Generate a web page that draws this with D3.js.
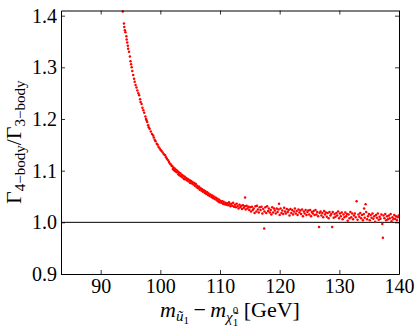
<!DOCTYPE html>
<html>
<head>
<meta charset="utf-8">
<script src="https://cdn.jsdelivr.net/npm/d3@7"></script>
<style>
  html, body { margin: 0; padding: 0; background: #fff; }
  svg { display: block; }
  text { font-family: "Liberation Serif", "DejaVu Serif", serif; fill: #000; }
</style>
</head>
<body>
<script>
// ---- data ----
const massDiff = [
  93.7, 93.9, 93.95, 94.05, 94.15, 94.3, 94.35, 94.45, 94.55, 94.6,
  94.75, 94.9, 95.0, 95.1, 95.2, 95.3, 95.45, 95.6, 95.7, 95.85,
  96.0, 96.15, 96.3, 96.45, 96.6, 96.7, 96.85, 97.0, 97.15,
  97.3, 97.5, 97.6, 97.7, 97.8, 97.95, 98.05, 98.2, 98.4, 98.6,
  98.8, 98.9, 99.05, 99.2, 99.4, 99.55, 99.7, 99.9, 100.05, 100.2,
  100.4, 100.6, 100.8, 100.95, 101.1, 101.3, 101.45, 101.6, 101.75, 101.9,
  102.0, 102.1, 102.2, 102.3, 102.4, 102.5, 102.6, 102.75, 102.85, 103.0,
  103.1, 103.2, 103.35, 103.45, 103.6, 103.7, 103.85, 103.95, 104.1, 104.2,
  104.35, 104.5, 104.6, 104.75, 104.9, 105.0, 105.15, 105.3, 105.4, 105.55,
  105.7, 105.8, 105.95, 106.1, 106.2, 106.35, 106.5, 106.6, 106.75, 106.9,
  107.0, 107.15, 107.3, 107.45, 107.55, 107.7, 107.85, 108.0, 108.1, 108.25,
  108.4, 108.55, 108.7, 108.8, 108.95, 109.1, 109.25, 109.4, 109.5, 109.65,
  109.8, 109.9, 110.05, 110.2, 110.35, 110.5, 110.6, 110.75, 110.9, 111.05,
  111.2, 111.35, 111.5, 111.6, 111.75, 111.9, 112.05, 112.2, 112.35, 112.5,
  112.65, 112.8, 112.95, 113.1, 113.25, 113.4, 113.55, 113.7, 113.85, 114.0,
  114.15, 114.2, 114.3, 114.45, 114.6, 114.75, 114.9,
  115.05, 115.2, 115.35, 115.5, 115.65, 115.8, 115.95, 116.1, 116.2, 116.35,
  116.5, 116.65, 116.8, 116.95, 117.1, 117.25, 117.4, 117.45, 117.6, 117.75,
  117.9, 118.05, 118.2, 118.35, 118.5, 118.6, 118.75, 118.9, 119.05, 119.2,
  119.35, 119.5, 119.65, 119.8, 119.9, 120.0, 120.15, 120.3, 120.45, 120.6,
  120.75, 120.9, 121.05, 121.2, 121.35, 121.5, 121.65, 121.8, 121.95, 122.1,
  122.25, 122.4, 122.55, 122.7, 122.85, 123.0, 123.15, 123.3, 123.45, 123.6,
  123.75, 123.9, 124.05, 124.2, 124.35, 124.5, 124.65, 124.8, 124.95, 125.1,
  125.25, 125.4, 125.55, 125.7, 125.85, 126.0, 126.15, 126.3, 126.45, 126.6,
  126.7, 126.85, 127.0, 127.15, 127.3, 127.45, 127.6, 127.75, 127.9, 128.05,
  128.2, 128.35, 128.5, 128.65, 128.8, 128.9, 129.05, 129.2, 129.35, 129.5,
  129.65, 129.8, 129.95, 130.1, 130.25, 130.4, 130.55, 130.7, 130.85, 131.0,
  131.15, 131.3, 131.4, 131.55, 131.7, 131.85, 132.0, 132.15, 132.3, 132.45,
  132.6, 132.75, 132.9, 133.05, 133.2, 133.35, 133.5, 133.65, 133.8, 133.95,
  134.1, 134.15, 134.25, 134.4, 134.5, 134.65, 134.8, 134.95, 135.1, 135.25,
  135.4, 135.55, 135.7, 135.85, 136.0, 136.15, 136.3, 136.45, 136.6, 136.75,
  136.9, 137.05, 137.2, 137.3, 137.4, 137.55, 137.7, 137.85, 138.0, 138.15,
  138.3, 138.45, 138.6, 138.75, 138.9, 139.05, 139.2, 139.35, 139.5, 139.65,
  139.8, 139.95
];
const widthRatio = [
  1.408, 1.385, 1.378, 1.372, 1.368, 1.360, 1.354, 1.348, 1.342, 1.336,
  1.330, 1.321, 1.312, 1.306, 1.300, 1.293, 1.285, 1.278, 1.272, 1.266,
  1.261, 1.255, 1.250, 1.246, 1.238, 1.233, 1.229, 1.222, 1.217,
  1.212, 1.205, 1.200, 1.197, 1.194, 1.188, 1.184, 1.181, 1.176, 1.171,
  1.168, 1.164, 1.160, 1.157, 1.152, 1.150, 1.146, 1.143, 1.140, 1.138,
  1.135, 1.132, 1.130, 1.126, 1.123, 1.120, 1.117, 1.114, 1.112, 1.109,
  1.109, 1.103, 1.106, 1.101, 1.104, 1.099, 1.102, 1.097, 1.100, 1.093,
  1.097, 1.091, 1.095, 1.089, 1.092, 1.087, 1.090, 1.084, 1.088, 1.083,
  1.086, 1.081, 1.084, 1.079, 1.082, 1.076, 1.080, 1.075, 1.078, 1.073,
  1.076, 1.071, 1.074, 1.068, 1.071, 1.066, 1.069, 1.063, 1.066, 1.061,
  1.064, 1.059, 1.062, 1.057, 1.060, 1.055, 1.058, 1.053, 1.056, 1.051,
  1.054, 1.049, 1.052, 1.047, 1.050, 1.045, 1.048, 1.043, 1.046, 1.041,
  1.044, 1.039, 1.042, 1.038, 1.041, 1.036, 1.040, 1.035, 1.038, 1.034,
  1.037, 1.033, 1.039, 1.035, 1.031, 1.036, 1.032, 1.038, 1.030, 1.034,
  1.029, 1.036, 1.031, 1.027, 1.034, 1.029, 1.032, 1.026, 1.033, 1.028,
  1.031, 1.048, 1.025, 1.032, 1.027, 1.030, 1.024,
  1.029, 1.021, 1.030, 1.024, 1.027, 1.018, 1.031, 1.021, 1.032, 1.025,
  1.019, 1.029, 1.024, 1.030, 1.017, 1.026, 0.988, 1.021, 1.029, 1.018,
  1.031, 1.022, 1.027, 1.019, 1.024, 1.015, 1.029, 1.019, 1.027, 1.023,
  1.017, 1.027, 1.020, 1.025, 1.036, 1.014, 1.027, 1.018, 1.023, 1.016,
  1.028, 1.021, 1.017, 1.026, 1.020, 1.024, 1.013, 1.026, 1.018, 1.024,
  1.015, 1.021, 1.027, 1.017, 1.022, 1.014, 1.025, 1.019, 1.023, 1.016,
  1.025, 1.012, 1.021, 1.017, 1.024, 1.014, 1.020, 1.023, 1.015, 1.024,
  1.012, 1.020, 1.017, 1.022, 1.014, 1.024, 1.015, 1.020, 1.012, 0.991,
  1.018, 1.021, 1.013, 1.018, 1.010, 1.022, 1.015, 1.019, 1.011, 1.018,
  1.008, 1.020, 1.013, 1.016, 0.991, 1.020, 1.009, 1.016, 1.011, 1.018,
  1.013, 1.021, 1.008, 1.017, 1.012, 1.019, 1.006, 1.015, 1.010, 1.019,
  1.012, 1.016, 1.003, 1.015, 1.008, 1.020, 1.010, 1.017, 1.006, 1.013,
  1.017, 1.010, 1.041, 1.005, 1.015, 1.011, 1.018, 1.008, 1.014, 1.004,
  1.016, 1.027, 1.009, 1.035, 1.020, 1.006, 1.012, 1.016, 1.004, 1.014,
  1.009, 1.017, 1.007, 1.012, 1.001, 1.014, 1.009, 1.017, 1.005, 1.011,
  1.007, 1.015, 0.997, 0.970, 1.013, 1.008, 1.016, 1.004, 1.012, 1.006,
  1.013, 1.008, 1.016, 1.002, 1.010, 1.006, 1.014, 1.007, 1.012, 1.004,
  1.010, 1.013
];
const xTicks = [90, 100, 110, 120, 130, 140];
const yTicks = [0.9, 1.0, 1.1, 1.2, 1.3, 1.4];
const xDomain = [83.35, 140];
const yDomain = [0.9, 1.41];
const refLevel = [1.0];

// ---- layout ----
const W = 420, H = 333;
const m = { left: 61, right: 21, top: 10.5, bottom: 59 };
const pw = W - m.left - m.right, ph = H - m.top - m.bottom;

const svg = d3.select("body").append("svg").attr("width", W).attr("height", H);
const g = svg.append("g").attr("transform", `translate(${m.left},${m.top})`);

const x = d3.scaleLinear().domain(xDomain).range([0, pw]);
const y = d3.scaleLinear().domain(yDomain).range([ph, 0]);

// reference line
g.selectAll("line.ref").data(refLevel).enter().append("line")
  .attr("class", "ref")
  .attr("x1", 0).attr("x2", pw)
  .attr("y1", d => y(d)).attr("y2", d => y(d))
  .attr("stroke", "#000").attr("stroke-width", 1);

// points
const pts = massDiff.map((v, i) => ({ x: v, y: widthRatio[i] }));
g.selectAll("circle.pt").data(pts).enter().append("circle")
  .attr("class", "pt")
  .attr("cx", d => x(d.x)).attr("cy", d => y(d.y))
  .attr("r", 1.25).attr("fill", "#ff0000");

// axes (inward ticks on all four sides)
const tickLen = 4;
function styleAxis(sel) {
  sel.selectAll("path.domain").attr("stroke", "#000").attr("stroke-width", 1);
  sel.selectAll(".tick line").attr("stroke", "#000").attr("stroke-width", 0.8);
  sel.selectAll(".tick text").style("font-size", "20px").attr("fill", "#000");
}
const xb = g.append("g").attr("transform", `translate(0,${ph})`)
  .call(d3.axisBottom(x).tickValues(xTicks).tickSizeInner(-tickLen).tickSizeOuter(0)
    .tickPadding(5).tickFormat(d3.format("d")));
styleAxis(xb);
const xt = g.append("g")
  .call(d3.axisTop(x).tickValues(xTicks).tickSizeInner(-tickLen).tickSizeOuter(0).tickFormat(""));
styleAxis(xt);
const yl = g.append("g")
  .call(d3.axisLeft(y).tickValues(yTicks).tickSizeInner(-tickLen).tickSizeOuter(0)
    .tickPadding(4).tickFormat(d3.format(".1f")));
styleAxis(yl);
const yr = g.append("g").attr("transform", `translate(${pw},0)`)
  .call(d3.axisRight(y).tickValues(yTicks).tickSizeInner(-tickLen).tickSizeOuter(0).tickFormat(""));
styleAxis(yr);

// ---- rich labels ----
function rich(parent, pieces) {
  const t = parent.append("text").attr("text-anchor", "middle");
  let cur = 0;
  pieces.forEach(p => {
    const ts = t.append("tspan").text(p.t)
      .style("font-size", p.s + "px")
      .attr("dy", (p.o || 0) - cur);
    if (p.dx) ts.attr("dx", p.dx);
    if (p.i) ts.style("font-style", "italic");
    cur = p.o || 0;
  });
  return t;
}

// x label: m_{ũ1} − m_{χ̃⁰1} [GeV]
rich(svg.append("g").attr("transform", `translate(${m.left + pw / 2},${317})`), [
  { t: "m", s: 22, i: true },
  { t: "ũ", s: 15, i: true, o: 4 },
  { t: "1", s: 11, o: 7 },
  { t: "\u2009\u2212\u2009", s: 22, o: 0 },
  { t: "m", s: 22, i: true },
  { t: "\u03C7\u0303", s: 15, i: true, o: 5 },
  { t: "0", s: 11, o: -3 },
  { t: "1", s: 11, o: 9, dx: -5.5 },
  { t: " [GeV]", s: 22, o: 0 }
]);

// y label: Γ_{4−body}/Γ_{3−body}
rich(svg.append("g").attr("transform", `translate(21,${m.top + ph / 2}) rotate(-90)`), [
  { t: "\u0393", s: 22 },
  { t: "4\u2212body", s: 15, o: 4 },
  { t: "/\u0393", s: 22, o: 0 },
  { t: "3\u2212body", s: 15, o: 4 }
]);
</script>
</body>
</html>
